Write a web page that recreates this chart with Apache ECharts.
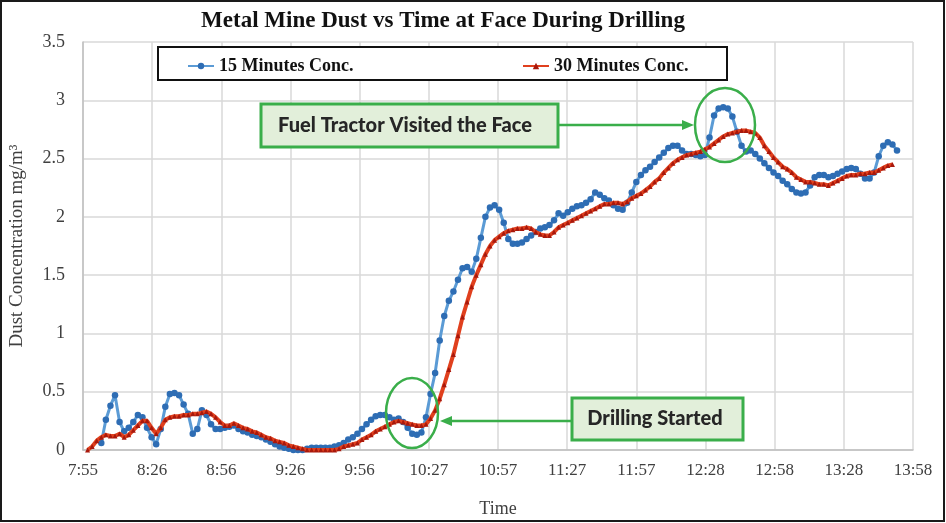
<!DOCTYPE html>
<html>
<head>
<meta charset="utf-8">
<script src="https://cdn.jsdelivr.net/npm/echarts@6/dist/echarts.min.js"></script>
<style>
  html, body { margin: 0; padding: 0; background: #fff; }
  #chart { width: 946px; height: 523px; }
</style>
</head>
<body>
<div id="chart"></div>
<script>
// minutes after 7:55
const minutes = [
  2, 4, 6, 8, 10, 12, 14, 16, 18, 20,
  22, 24, 26, 28, 30, 32, 34, 36, 38, 40,
  42, 44, 46, 48, 50, 52, 54, 56, 58, 60,
  62, 64, 66, 68, 70, 72, 74, 76, 78, 80,
  82, 84, 86, 88, 90, 92, 94, 96, 98, 100,
  102, 104, 106, 108, 110, 112, 114, 116, 118, 120,
  122, 124, 126, 128, 130, 132, 134, 136, 138, 140,
  142, 144, 146, 148, 150, 152, 154, 156, 158, 160,
  162, 164, 166, 168, 170, 172, 174, 176, 178, 180,
  182, 184, 186, 188, 190, 192, 194, 196, 198, 200,
  202, 204, 206, 208, 210, 212, 214, 216, 218, 220,
  222, 224, 226, 228, 230, 232, 234, 236, 238, 240,
  242, 244, 246, 248, 250, 252, 254, 256, 258, 260,
  262, 264, 266, 268, 270, 272, 274, 276, 278, 280,
  282, 284, 286, 288, 290, 292, 294, 296, 298, 300,
  302, 304, 306, 308, 310, 312, 314, 316, 318, 320,
  322, 324, 326, 328, 330, 332, 334, 336, 338, 340,
  342, 344, 346, 348, 350, 352, 354, 356
];

const conc15 = [
  null, null, null, 0.06, 0.26, 0.38, 0.47, 0.24, 0.16, 0.19,
  0.24, 0.30, 0.28, 0.19, 0.11, 0.05, 0.18, 0.37, 0.48, 0.49,
  0.47, 0.39, 0.31, 0.14, 0.18, 0.34, 0.30, 0.22, 0.18, 0.18,
  0.19, 0.20, 0.21, 0.18, 0.16, 0.15, 0.13, 0.12, 0.11, 0.09,
  0.07, 0.05, 0.03, 0.02, 0.01, 0.00, 0.00, 0.00, 0.01, 0.02,
  0.02, 0.02, 0.02, 0.02, 0.03, 0.04, 0.06, 0.09, 0.11, 0.14,
  0.18, 0.22, 0.26, 0.29, 0.30, 0.30, 0.28, 0.26, 0.27, 0.24,
  0.19, 0.14, 0.13, 0.15, 0.28, 0.48, 0.66, 0.94, 1.15, 1.28,
  1.36, 1.46, 1.56, 1.57, 1.53, 1.64, 1.82, 2.00, 2.08, 2.10,
  2.06, 1.95, 1.81, 1.77, 1.77, 1.78, 1.81, 1.84, 1.87, 1.90,
  1.91, 1.93, 1.97, 2.03, 2.01, 2.04, 2.07, 2.09, 2.10, 2.12,
  2.15, 2.21, 2.19, 2.16, 2.14, 2.10, 2.07, 2.06, 2.12, 2.21,
  2.30, 2.36, 2.40, 2.43, 2.47, 2.51, 2.55, 2.59, 2.61, 2.61,
  2.57, 2.54, 2.54, 2.53, 2.52, 2.53, 2.68, 2.87, 2.93, 2.94,
  2.93, 2.86, 2.73, 2.61, 2.56, 2.57, 2.54, 2.50, 2.46, 2.42,
  2.38, 2.35, 2.31, 2.28, 2.24, 2.21, 2.20, 2.21, 2.27, 2.34,
  2.36, 2.36, 2.34, 2.35, 2.37, 2.39, 2.41, 2.42, 2.41, 2.37,
  2.33, 2.33, 2.38, 2.52, 2.61, 2.64, 2.62, 2.57
];

const conc30 = [
  0.00, 0.03, 0.08, 0.11, 0.13, 0.12, 0.12, 0.14, 0.11, 0.13,
  0.17, 0.21, 0.25, 0.25, 0.19, 0.14, 0.19, 0.26, 0.28, 0.29,
  0.29, 0.30, 0.30, 0.31, 0.31, 0.32, 0.33, 0.31, 0.28, 0.24,
  0.21, 0.21, 0.23, 0.21, 0.19, 0.18, 0.16, 0.15, 0.13, 0.11,
  0.10, 0.08, 0.07, 0.06, 0.04, 0.03, 0.02, 0.01, 0.00, 0.00,
  0.00, 0.00, 0.00, 0.00, 0.00, 0.01, 0.03, 0.04, 0.05, 0.06,
  0.09, 0.11, 0.13, 0.16, 0.18, 0.20, 0.22, 0.24, 0.25, 0.24,
  0.23, 0.22, 0.21, 0.21, 0.22, 0.27, 0.34, 0.44, 0.56, 0.69,
  0.82, 0.98, 1.14, 1.27, 1.40, 1.50, 1.59, 1.68, 1.75, 1.80,
  1.83, 1.86, 1.88, 1.89, 1.90, 1.90, 1.91, 1.90, 1.87, 1.85,
  1.84, 1.84, 1.87, 1.91, 1.93, 1.95, 1.97, 1.99, 2.01, 2.03,
  2.05, 2.07, 2.09, 2.11, 2.11, 2.12, 2.12, 2.11, 2.13, 2.16,
  2.18, 2.20, 2.23, 2.26, 2.30, 2.33, 2.38, 2.42, 2.46, 2.49,
  2.51, 2.53, 2.54, 2.55, 2.56, 2.58, 2.60, 2.63, 2.66, 2.69,
  2.71, 2.72, 2.73, 2.74, 2.74, 2.73, 2.72, 2.68, 2.61, 2.56,
  2.51, 2.47, 2.43, 2.41, 2.38, 2.34, 2.32, 2.30, 2.30, 2.29,
  2.28, 2.28, 2.27, 2.29, 2.31, 2.33, 2.35, 2.36, 2.36, 2.37,
  2.37, 2.38, 2.38, 2.40, 2.42, 2.44, 2.45, null
];

const timeLabels = ['7:55', '8:26', '8:56', '9:26', '9:56', '10:27', '10:57',
  '11:27', '11:57', '12:28', '12:58', '13:28', '13:58'];

const toPairs = vals => minutes.map((m, i) => [m, vals[i]]).filter(p => p[1] !== null);

const green = '#3aae4a';
const serif = '"Liberation Serif", "Times New Roman", serif';
const boxFont = '900 20px Lato, "Open Sans", sans-serif';

const chart = echarts.init(document.getElementById('chart'));
const option = {
  animation: false,
  title: {
    text: 'Metal Mine Dust vs Time at Face During Drilling',
    left: 438,
    textAlign: 'center',
    top: 5,
    textStyle: {
      fontFamily: serif,
      fontSize: 23,
      fontWeight: 'bold',
      color: '#111'
    }
  },
  legend: [
    {
      data: ['15 Minutes Conc.'],
      left: 182,
      top: 52,
      itemWidth: 26,
      itemHeight: 8,
      textStyle: { fontFamily: serif, fontSize: 18, fontWeight: 'bold', color: '#111' },
      z: 6
    },
    {
      data: ['30 Minutes Conc.'],
      left: 517,
      top: 52,
      itemWidth: 26,
      itemHeight: 8,
      textStyle: { fontFamily: serif, fontSize: 18, fontWeight: 'bold', color: '#111' },
      z: 6
    }
  ],
  grid: {
    left: 83,
    right: 33,
    top: 42,
    bottom: 73
  },
  xAxis: {
    type: 'value',
    min: 0,
    max: 363,
    interval: 30.25,
    name: 'Time',
    nameLocation: 'middle',
    nameGap: 50,
    nameTextStyle: { fontFamily: serif, fontSize: 18, color: '#404040' },
    axisLine: { lineStyle: { color: '#bfbfbf', width: 1.5 } },
    axisTick: { show: false },
    axisLabel: {
      fontFamily: serif,
      fontSize: 17,
      color: '#404040',
      margin: 12,
      formatter: v => timeLabels[Math.round(v / 30.25)]
    },
    splitLine: { show: true, lineStyle: { color: '#d9d9d9', width: 1.5 } }
  },
  yAxis: {
    type: 'value',
    min: 0,
    max: 3.5,
    interval: 0.5,
    name: 'Dust Concentration mg/m³',
    nameLocation: 'middle',
    nameGap: 56,
    nameTextStyle: { fontFamily: serif, fontSize: 19, color: '#404040' },
    axisLine: { show: true, lineStyle: { color: '#bfbfbf', width: 1.5 } },
    axisTick: { show: false },
    axisLabel: { fontFamily: serif, fontSize: 18, color: '#404040', margin: 18 },
    splitLine: { lineStyle: { color: '#d9d9d9', width: 1.5 } }
  },
  series: [
    {
      name: '15 Minutes Conc.',
      type: 'line',
      data: toPairs(conc15),
      symbol: 'circle',
      symbolSize: 6.5,
      showAllSymbol: true,
      itemStyle: { color: '#2e6db4' },
      lineStyle: { color: '#5b9bd5', width: 3 },
      z: 3
    },
    {
      name: '30 Minutes Conc.',
      type: 'line',
      data: toPairs(conc30),
      symbol: 'triangle',
      symbolSize: 5,
      showAllSymbol: true,
      itemStyle: { color: '#a8180c' },
      lineStyle: { color: '#e0401e', width: 4 },
      z: 4
    }
  ],
  graphic: [
    // whole-figure frame
    { type: 'rect', shape: { x: 1, y: 1, width: 943, height: 520 }, style: { fill: 'none', stroke: '#1a1a1a', lineWidth: 2 }, z: 20 },
    // legend frame
    { type: 'rect', shape: { x: 158, y: 47, width: 569, height: 33 }, style: { fill: '#fff', stroke: '#111', lineWidth: 2 }, z: 5 },
    // fuel tractor note
    { type: 'rect', shape: { x: 261, y: 104, width: 297, height: 43 }, style: { fill: '#e2efda', stroke: green, lineWidth: 3 }, z: 10 },
    { type: 'text', x: 405, y: 126, style: { text: 'Fuel Tractor Visited the Face', font: boxFont, fill: '#262626', textAlign: 'center', textVerticalAlign: 'middle' }, z: 11 },
    { type: 'line', shape: { x1: 559, y1: 125, x2: 684, y2: 125 }, style: { stroke: green, lineWidth: 2.5 }, z: 10 },
    { type: 'polygon', shape: { points: [[694, 125], [682, 120], [682, 130]] }, style: { fill: green }, z: 10 },
    { type: 'ellipse', shape: { cx: 725, cy: 125, rx: 30, ry: 37 }, style: { fill: 'none', stroke: green, lineWidth: 2.5 }, z: 10 },
    // drilling note
    { type: 'rect', shape: { x: 572, y: 398, width: 171, height: 42 }, style: { fill: '#e2efda', stroke: green, lineWidth: 3 }, z: 10 },
    { type: 'text', x: 655, y: 419, style: { text: 'Drilling Started', font: boxFont, fill: '#262626', textAlign: 'center', textVerticalAlign: 'middle' }, z: 11 },
    { type: 'line', shape: { x1: 571, y1: 421, x2: 450, y2: 421 }, style: { stroke: green, lineWidth: 2.5 }, z: 10 },
    { type: 'polygon', shape: { points: [[440, 421], [452, 416], [452, 426]] }, style: { fill: green }, z: 10 },
    { type: 'ellipse', shape: { cx: 412, cy: 413, rx: 26, ry: 35 }, style: { fill: 'none', stroke: green, lineWidth: 2.5 }, z: 10 }
  ]
};
chart.setOption(option);
</script>
</body>
</html>
